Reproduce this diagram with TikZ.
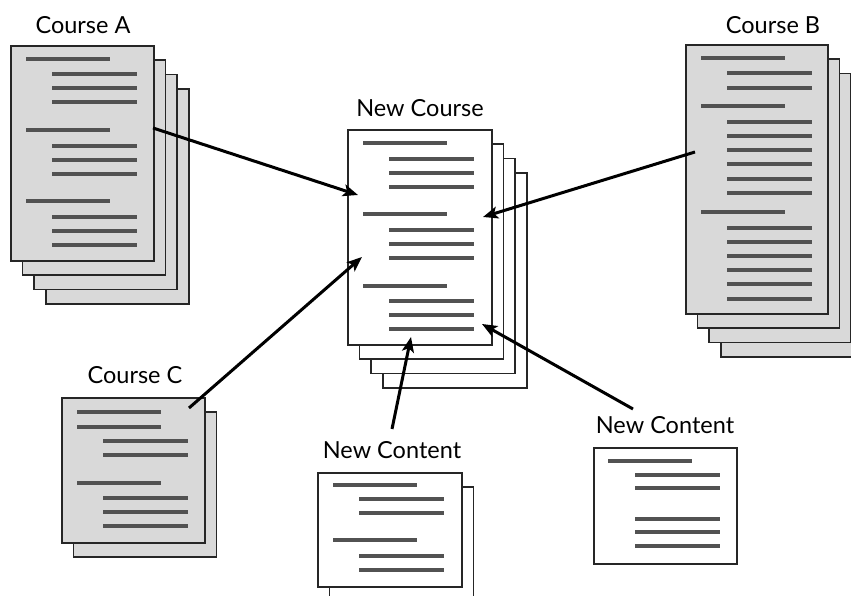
\documentclass[tikz,border=0pt]{standalone}
\usepackage{fontspec}
\setmainfont{Lato}
\usetikzlibrary{arrows.meta}
\definecolor{pagegray}{HTML}{D9D9D9}
\definecolor{txtline}{HTML}{525252}
\definecolor{edge}{HTML}{262626}
\tikzset{
  graypage/.style={draw=edge, line width=1.6pt, fill=pagegray, anchor=north west, inner sep=0pt},
  whitepage/.style={draw=edge, line width=1.6pt, fill=white, anchor=north west, inner sep=0pt},
  docl/.style={draw=txtline, line width=3.3pt, line cap=butt},
  lbl/.style={font=\fontsize{23.5}{25}\selectfont, inner sep=0pt},
  flow/.style={draw=black, line width=3pt, -{Stealth[length=15pt,width=12pt,inset=3.5pt]}, shorten >=0pt}
}
\newcommand{\headln}[1]{\draw[docl] (16,#1) -- (100,#1);}
\newcommand{\subln}[1]{\draw[docl] (42,#1) -- (127,#1);}
\begin{document}
\begin{tikzpicture}[x=1pt,y=-1pt]
\useasboundingbox (0,0) rectangle (851,596);

% ---------- Course A ----------
\foreach \k in {3,2,1}{
  \node[graypage, minimum width=143pt, minimum height=215pt] at ({10+\k*11.7},{45+\k*14.4}) {};
}
\node[graypage, minimum width=143pt, minimum height=215pt] (A) at (10,45) {};
\begin{scope}[shift={(10,45)}]
  \headln{14}\subln{29}\subln{43}\subln{57}
  \headln{85}\subln{101}\subln{115}\subln{129}
  \headln{156}\subln{172}\subln{186}\subln{200}
\end{scope}
\node[lbl] (labA) at (83,25) {Course A};

% ---------- New Course ----------
\foreach \k in {3,2,1}{
  \node[whitepage, minimum width=144pt, minimum height=215pt] at ({347+\k*11.7},{129+\k*14.4}) {};
}
\node[whitepage, minimum width=144pt, minimum height=215pt] (N) at (347,129) {};
\begin{scope}[shift={(347,129)}]
  \headln{14}\subln{30}\subln{44}\subln{58}
  \headln{85}\subln{101}\subln{115}\subln{129}
  \headln{157}\subln{172}\subln{186}\subln{200}
\end{scope}
\node[lbl] (labN) at (420,108) {New Course};

% ---------- Course B ----------
\foreach \k in {3,2,1}{
  \node[graypage, minimum width=142pt, minimum height=269pt] at ({685+\k*11.7},{44+\k*14.4}) {};
}
\node[graypage, minimum width=142pt, minimum height=269pt] (B) at (685,44) {};
\begin{scope}[shift={(685,44)}]
  \headln{14}\subln{29}\subln{44}
  \headln{62}\subln{78}\subln{92}\subln{106}\subln{120}\subln{135}\subln{149}
  \headln{168}\subln{184}\subln{198}\subln{212}\subln{226}\subln{240}\subln{255}
\end{scope}
\node[lbl] (labB) at (773,25) {Course B};

% ---------- Course C ----------
\node[graypage, minimum width=143pt, minimum height=145pt] at (72.7,411.4) {};
\node[graypage, minimum width=143pt, minimum height=145pt] (C) at (61,397) {};
\begin{scope}[shift={(61,397)}]
  \headln{15}\headln{30}\subln{44}\subln{58}
  \headln{86}\subln{101}\subln{115}\subln{129}
\end{scope}
\node[lbl] (labC) at (135,375) {Course C};

% ---------- New Content (bottom) ----------
\node[whitepage, minimum width=144pt, minimum height=114pt] at (328.7,486.4) {};
\node[whitepage, minimum width=144pt, minimum height=114pt] (D) at (317,472) {};
\begin{scope}[shift={(317,472)}]
  \headln{13}\subln{27}\subln{41}
  \headln{68}\subln{84}\subln{98}
\end{scope}
\node[lbl] (labD) at (392,450) {New Content};

% ---------- New Content (right) ----------
\node[whitepage, minimum width=143pt, minimum height=116pt] (E) at (593,447) {};
\begin{scope}[shift={(593,447)}]
  \draw[docl] (15,14) -- (99,14);
  \subln{28}\subln{41}
  \subln{72}\subln{85}\subln{99}
\end{scope}
\node[lbl] (labE) at (665,425) {New Content};

% ---------- connectors ----------
\coordinate (a0) at (153,128);  \coordinate (a1) at (358,195);
\coordinate (b0) at (695,152);  \coordinate (b1) at (483,217);
\coordinate (c0) at (189,408);  \coordinate (c1) at (362,257);
\coordinate (d0) at (392,429);  \coordinate (d1) at (411,337);
\coordinate (e0) at (633,409);  \coordinate (e1) at (482,324);
\draw[flow] (a0) -- (a1);
\draw[flow] (b0) -- (b1);
\draw[flow] (c0) -- (c1);
\draw[flow] (d0) -- (d1);
\draw[flow] (e0) -- (e1);
\end{tikzpicture}
\end{document}
